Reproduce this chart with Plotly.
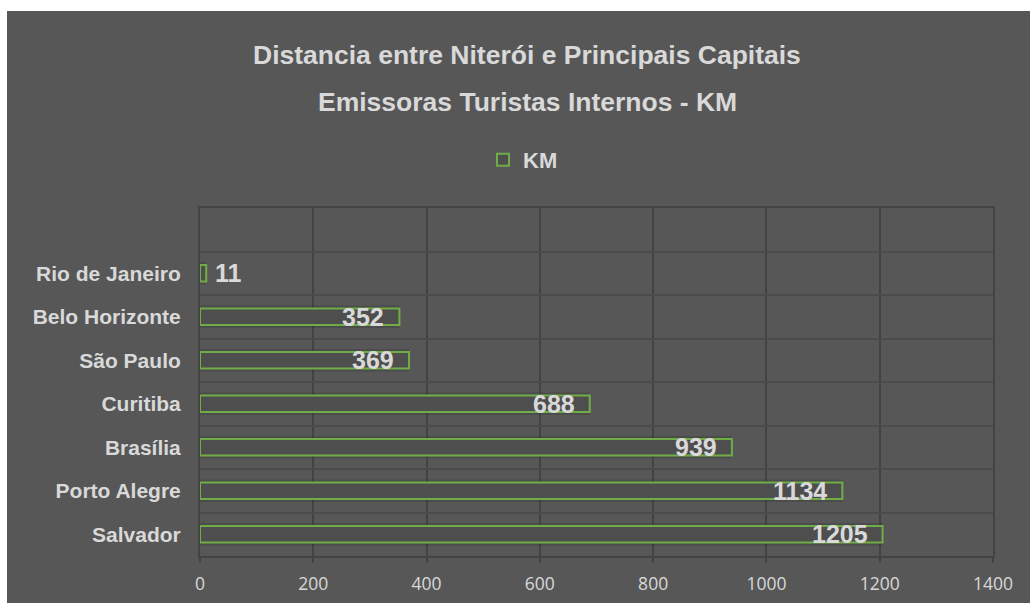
import plotly.graph_objects as go

cities = ["Salvador", "Porto Alegre", "Brasília", "Curitiba", "São Paulo", "Belo Horizonte", "Rio de Janeiro"]
km = [1205, 1134, 939, 688, 369, 352, 11]
x_ticks = [0, 200, 400, 600, 800, 1000, 1200, 1400]
title_lines = ["Distancia entre Niterói e Principais Capitais", "Emissoras Turistas Internos - KM"]
series_name = "KM"

BG = "#575757"
GRID = "#434343"
GREEN = "#70ad47"
TXT = "#d9d9d9"
FONT = "Liberation Sans, Arial, sans-serif"

W, H = 1030, 603
L, R, T, B = 200, 37, 208, 47
pw, ph = W - L - R, H - T - B

fig = go.Figure()

# soft shadow behind bars
fig.add_trace(go.Bar(
    x=km, y=cities, orientation="h", width=0.52,
    marker=dict(color="rgba(40,40,40,0.22)", line=dict(width=0)),
    showlegend=False, hoverinfo="skip",
))
fig.add_trace(go.Bar(
    x=km, y=cities, orientation="h", width=0.38, name=series_name,
    marker=dict(color="#4e4e4e", line=dict(color=GREEN, width=2)),
    hoverinfo="x+y",
))

annotations = [
    dict(text="<b>" + title_lines[0] + "</b>", xref="paper", yref="paper",
         x=(527 - L) / pw, y=(H - B - 55) / ph, showarrow=False,
         font=dict(family=FONT, size=26.5, color=TXT), xanchor="center", yanchor="middle"),
    dict(text="<b>" + title_lines[1] + "</b>", xref="paper", yref="paper",
         x=(527 - L) / pw, y=(H - B - 102) / ph, showarrow=False,
         font=dict(family=FONT, size=26.5, color=TXT), xanchor="center", yanchor="middle"),
]
for c, v in zip(cities, km):
    big = v > 100
    annotations.append(dict(
        x=v, y=c, xref="x", yref="y", text="<b>%d</b>" % v, showarrow=False,
        xanchor="right" if big else "left", xshift=-13 if big else 7, yanchor="middle",
        font=dict(family=FONT, size=25, color=TXT),
    ))

fig.update_layout(
    barmode="overlay",
    width=W, height=H,
    margin=dict(l=L, r=R, t=T, b=B, autoexpand=False),
    paper_bgcolor="white",
    plot_bgcolor="rgba(0,0,0,0)",
    font=dict(family=FONT, color=TXT),
    shapes=[dict(
        type="rect", xref="paper", yref="paper", layer="below",
        x0=(7 - L) / pw, x1=(W - L) / pw + 0.01,
        y0=-(B + 5) / ph, y1=(H - B - 11) / ph,
        fillcolor=BG, line=dict(width=0),
    )],
    annotations=annotations,
    legend=dict(
        orientation="h", x=(523 - L) / pw, xanchor="center",
        y=(H - B - 160) / ph, yanchor="middle",
        font=dict(family=FONT, size=22, color=TXT, weight="bold"),
        bgcolor="rgba(0,0,0,0)", itemwidth=30,
    ),
    xaxis=dict(
        range=[0, 1400], tickvals=x_ticks, showgrid=True, gridcolor=GRID, gridwidth=2,
        zeroline=False, showline=True, linecolor=GRID, linewidth=2, mirror=True,
        tickfont=dict(family="Open Sans, sans-serif", size=17.5, color=TXT),
        ticks="outside", ticklen=5, tickwidth=2, tickcolor=GRID, ticklabelstandoff=6,
        automargin=False,
    ),
    yaxis=dict(
        type="category", categoryorder="array", categoryarray=cities,
        range=[-0.5, 7.5], tickson="boundaries", showgrid=True, gridcolor="#4b4b4b", gridwidth=2,
        tickfont=dict(family=FONT, size=21, color=TXT, weight="bold"),
        ticks="", ticklabelstandoff=13, showline=True, linecolor=GRID, linewidth=2, mirror=True,
        zeroline=False, automargin=False,
    ),
)

fig.write_html("out.html")
